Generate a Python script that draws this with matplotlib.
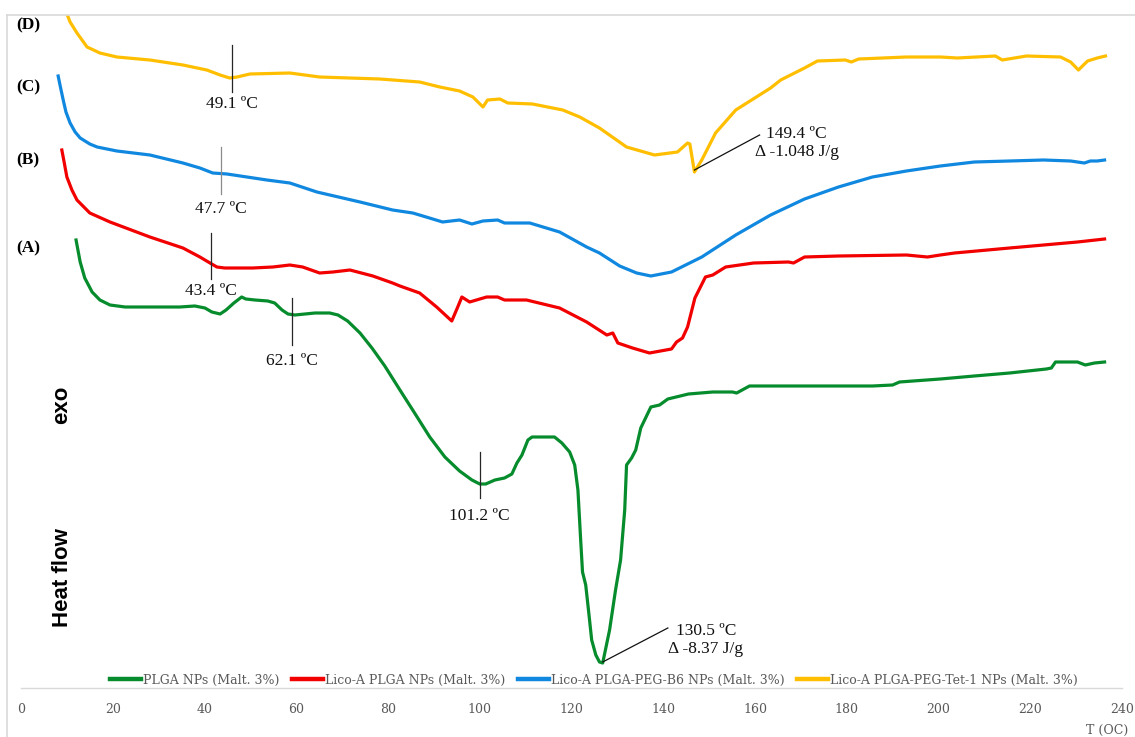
import matplotlib
matplotlib.use("Agg")
import matplotlib.pyplot as plt
from matplotlib.lines import Line2D

# DSC thermograms, heat flow in arbitrary units (curves offset for clarity)
temp_a = [12.0, 12.9, 13.9, 15.5, 17.2, 19.4, 22.7, 28.1, 34.6, 37.9, 40.1, 41.6, 43.4, 44.7,
          46.4, 48.1, 49.0, 51.0, 53.8, 55.3, 56.9, 58.2, 59.7, 61.9, 64.1, 67.3, 69.1, 71.2,
          73.9, 76.5, 79.3, 82.6, 85.8, 89.1, 92.4, 95.6, 98.3, 100.0, 101.3, 103.3, 105.4,
          107.0, 108.1, 109.2, 110.5, 111.4, 116.3, 117.9, 119.6, 120.7, 121.4, 122.0, 122.4,
          123.1, 123.7, 124.4, 125.3, 126.1, 126.8, 128.3, 129.6, 130.7, 131.6, 132.0, 133.1,
          134.0, 135.1, 137.3, 139.2, 141.0, 145.5, 150.8, 155.1, 156.0, 158.8, 170.8, 185.6,
          190.0, 191.5, 200.4, 207.8, 215.5, 223.5, 224.6, 225.5, 230.3, 232.0, 234.0, 236.2]
flow_a = [448, 426, 410, 396, 388, 383, 381, 381, 381, 382, 380, 376, 374, 378,
          385, 391, 389, 388, 387, 385, 378, 374, 373, 374, 375, 375, 373, 367,
          355, 340, 322, 298, 275, 251, 231, 217, 208, 204, 204, 208, 210,
          214, 225, 233, 248, 251, 251, 245, 236, 223, 198, 148, 116,
          103, 78, 48, 33, 26, 25, 58, 98, 128, 178, 223, 230,
          238, 260, 281, 283, 289, 294, 296, 296, 295, 302, 302, 302,
          303, 306, 309, 312, 315, 319, 320, 326, 326, 323, 325, 326]

temp_b = [8.9, 9.4, 10.0, 11.1, 12.2, 15.0, 19.4, 28.1, 35.3, 39.0, 41.2, 42.7, 44.4, 46.2,
          50.5, 54.9, 58.6, 61.4, 65.1, 68.0, 71.7, 76.7, 81.0, 82.6, 86.9, 90.6, 93.9, 95.2,
          96.1, 97.8, 101.5, 103.9, 105.4, 110.2, 117.4, 123.3, 127.7, 129.0, 130.1, 133.3,
          137.0, 141.8, 142.9, 144.2, 145.3, 146.9, 149.2, 150.8, 153.6, 159.7, 167.3, 168.4,
          170.8, 178.2, 193.0, 197.6, 200.4, 203.5, 215.5, 230.3, 236.2]
flow_b = [538, 526, 511, 498, 488, 475, 466, 451, 440, 431, 425, 421, 420, 420,
          420, 421, 423, 421, 415, 416, 418, 412, 405, 402, 395, 381, 367, 381,
          391, 386, 391, 391, 388, 388, 380, 366, 353, 355, 345, 340,
          335, 339, 346, 350, 361, 390, 411, 413, 421, 425, 426, 425,
          431, 432, 433, 431, 433, 435, 440, 446, 449]

temp_c = [8.1, 8.5, 9.2, 9.8, 10.7, 11.8, 12.9, 15.0, 16.6, 20.9, 28.1, 35.3, 39.0, 41.8,
          44.9, 53.6, 58.6, 64.5, 73.9, 81.0, 85.4, 87.6, 91.9, 95.6, 98.3, 100.7, 103.9,
          105.4, 110.9, 117.4, 123.3, 126.1, 130.5, 134.2, 137.3, 141.8, 148.4, 155.8, 163.4,
          170.8, 178.2, 185.6, 193.0, 200.4, 207.8, 215.5, 222.9, 228.8, 231.8, 233.1, 234.6,
          236.2]
flow_c = [612, 603, 588, 576, 565, 556, 550, 544, 541, 537, 533, 525, 520, 515,
          514, 508, 505, 496, 486, 478, 475, 472, 466, 468, 464, 467, 468,
          465, 465, 456, 441, 435, 422, 415, 412, 416, 431, 453, 473,
          489, 501, 511, 517, 522, 526, 527, 528, 527, 525, 527, 527,
          528]

temp_d = [9.5, 10.7, 12.2, 14.4, 17.2, 20.9, 28.1, 35.3, 40.5, 43.4, 45.5, 47.1, 49.9, 58.6,
          65.1, 78.2, 86.9, 91.3, 95.6, 98.5, 100.7, 101.7, 104.4, 106.1, 111.5, 118.1, 121.8,
          126.1, 132.0, 138.1, 143.1, 145.3, 145.8, 146.8, 148.4, 151.4, 155.8, 160.3, 163.4,
          165.6, 170.8, 173.6, 179.7, 181.0, 182.6, 193.0, 200.4, 204.1, 212.4, 213.9, 219.2,
          226.6, 228.8, 230.5, 232.5, 234.6, 236.4]
flow_d = [680, 666, 655, 641, 635, 631, 628, 623, 618, 613, 610, 611, 614, 615,
          611, 609, 606, 601, 597, 591, 581, 588, 589, 585, 584, 578, 571,
          560, 541, 533, 536, 545, 544, 516, 528, 555, 578, 591, 600,
          608, 620, 627, 628, 626, 629, 631, 631, 630, 632, 628, 632,
          631, 626, 618, 627, 630, 632]

series = [
    ("PLGA NPs (Malt. 3%)", temp_a, flow_a, "#078c2d"),
    ("Lico-A PLGA NPs (Malt. 3%)", temp_b, flow_b, "#f20000"),
    ("Lico-A PLGA-PEG-B6 NPs (Malt. 3%)", temp_c, flow_c, "#1088e0"),
    ("Lico-A PLGA-PEG-Tet-1 NPs (Malt. 3%)", temp_d, flow_d, "#ffbf00"),
]

# glass transition marks: temperature on curve, tick top/bottom, label height, label, tick colour
tg_marks = [
    (46.0, 643, 596, 584, "49.1 ºC", "#262626"),
    (43.6, 541, 494, 479, "47.7 ºC", "#8c8c8c"),
    (41.4, 455, 409, 397, "43.4 ºC", "#262626"),
    (59.0, 390, 343, 327, "62.1 ºC", "#262626"),
    (100.0, 236, 190, 172, "101.2 ºC", "#262626"),
]

# melting peaks: peak point, label point, label text
peaks = [
    (126.8, 26, 141.0, 60, 149.3, 48, "130.5 ºC\nΔ -8.37 J/g"),
    (146.8, 518, 161.0, 553, 169.1, 545, "149.4 ºC\nΔ -1.048 J/g"),
]

curve_tags = [("(A)", 440), ("(B)", 528), ("(C)", 601), ("(D)", 663)]

fig = plt.figure(figsize=(11.35, 7.37), dpi=100)
ax = fig.add_axes([21 / 1135, 49 / 737, 1101 / 1135, 673 / 737])

for name, t, q, col in series:
    ax.plot(t, q, color=col, lw=2.3, label=name, solid_joinstyle="round")

serif = ["Liberation Serif", "DejaVu Serif"]
for t, top, bot, ty, txt, lc in tg_marks:
    ax.plot([t, t], [bot, top], color=lc, lw=0.9)
    ax.text(t, ty, txt, ha="center", va="center", fontsize=12.5, family=serif, color="#111111")

for t0, q0, t1, q1, tx, ty, txt in peaks:
    ax.plot([t0, t1], [q0, q1], color="#111111", lw=0.9)
    ax.text(tx, ty, txt, ha="center", va="center", fontsize=12.5, family=serif,
            color="#111111", linespacing=1.1)

for tag, y in curve_tags:
    ax.text(-1.0, y, tag, ha="left", va="center", fontsize=12.5, fontweight="bold",
            family=serif, clip_on=False)

ax.set_xlim(0, 240)
ax.set_ylim(0, 673)
ax.set_xticks(range(0, 241, 20))
ax.set_yticks([])
ax.tick_params(axis="x", length=0, pad=11, labelsize=9, labelcolor="#595959")
for lab in ax.get_xticklabels():
    lab.set_family("DejaVu Serif")
for side in ["top", "right", "left"]:
    ax.spines[side].set_visible(False)
ax.spines["bottom"].set_color("#d9d9d9")
ax.spines["bottom"].set_linewidth(1.0)
ax.patch.set_visible(False)

fig.text(62 / 1135, 1 - 405 / 737, "exo", rotation=90, ha="center", va="center",
         fontsize=16, fontweight="bold", family="Liberation Sans")
fig.text(62 / 1135, 1 - 578 / 737, "Heat flow", rotation=90, ha="center", va="center",
         fontsize=16, fontweight="bold", family="Liberation Sans")
fig.text(1107 / 1135, 1 - 724 / 737, "T (OC)", ha="center", va="top",
         fontsize=9, family="DejaVu Serif", color="#595959")

# chart border (top and left edges visible)
fig.add_artist(Line2D([7 / 1135, 1.0], [1 - 15 / 737] * 2, color="#d9d9d9", lw=1.2))
fig.add_artist(Line2D([7 / 1135] * 2, [0.0, 1 - 15 / 737], color="#d9d9d9", lw=1.2))

leg = fig.legend(loc="center", bbox_to_anchor=(594 / 1135, 1 - 680 / 737), ncol=4,
                 frameon=False, handlelength=2.5, handletextpad=0.15, columnspacing=1.0,
                 prop={"family": "DejaVu Serif", "size": 9})
for h in leg.get_lines():
    h.set_linewidth(3.2)
for t in leg.get_texts():
    t.set_color("#595959")

fig.savefig("out.png", dpi=100)
